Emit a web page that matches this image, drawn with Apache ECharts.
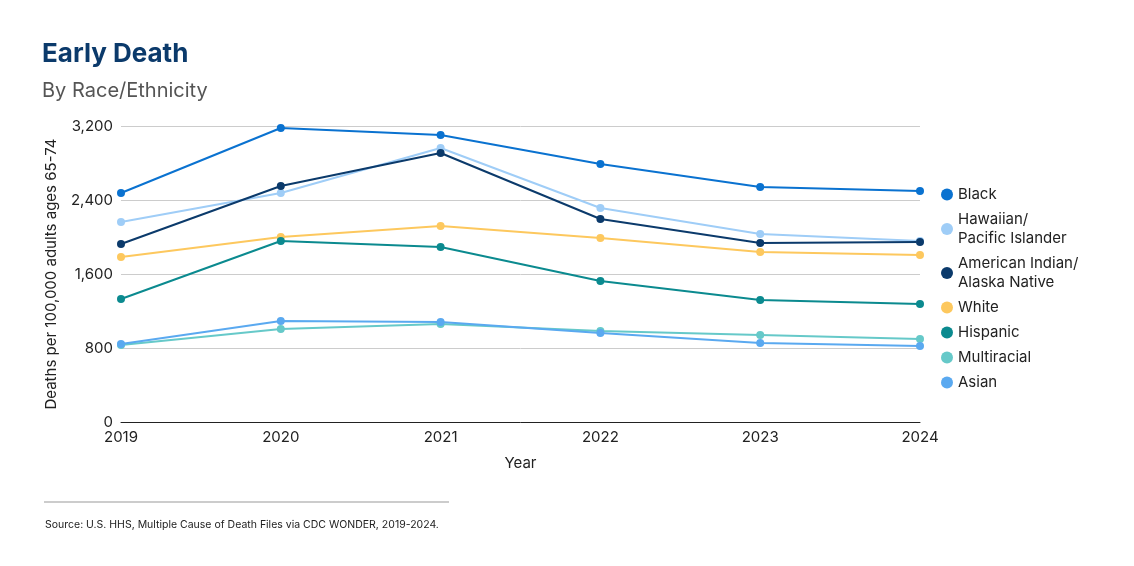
<!DOCTYPE html><html><head><meta charset="utf-8"><script src="https://cdn.jsdelivr.net/npm/echarts@6/dist/echarts.min.js"></script>
<style>body{margin:0}#c{width:1134px;height:566px}</style></head><body><div id="c"></div><script>
const years=['2019','2020','2021','2022','2023','2024'];
const names=['Black','Hawaiian/\nPacific Islander','American Indian/\nAlaska Native','White','Hispanic','Multiracial','Asian'];
const colors=['#0a72d0','#9fcdf7','#0b3a6b','#fdc85e','#0b8a8f','#66c9c9','#5aa9f0'];
const black=[2476,3178,3103,2789,2541,2497];
const hawaiian=[2162,2476,2962,2313,2032,1957];
const aian=[1924,2551,2908,2195,1935,1946];
const white=[1784,2000,2119,1989,1838,1805];
const hispanic=[1330,1957,1892,1524,1319,1276];
const multiracial=[832,1005,1059,984,940,897];
const asian=[843,1092,1081,962,854,822];
const vals=[black,hawaiian,aian,white,hispanic,multiracial,asian];
const f='Inter, Roboto, sans-serif';
const ch=echarts.init(document.getElementById('c'));
ch.setOption({
 textStyle:{fontFamily:f},
 title:[{text:'Early Death',left:37,top:36,textStyle:{fontSize:26,fontWeight:'bold',color:'#0b3a6b',fontFamily:f}},
  {text:'By Race/Ethnicity',left:37,top:76,textStyle:{fontSize:20,fontWeight:'normal',color:'#555',fontFamily:f}},
  {text:'Source: U.S. HHS, Multiple Cause of Death Files via CDC WONDER, 2019-2024.',left:40,top:514,textStyle:{fontSize:10.5,fontWeight:'normal',color:'#222',fontFamily:f}}],
 graphic:[{type:'line',shape:{x1:44,y1:502,x2:449,y2:502},style:{stroke:'#999',lineWidth:1}}],
 grid:{left:121,right:214,top:126,bottom:144},
 legend:{orient:'vertical',left:936,top:180,itemWidth:12,itemHeight:12,itemGap:6,icon:'circle',
  textStyle:{fontSize:15,color:'#222',lineHeight:19},data:names},
 xAxis:{type:'category',data:years,boundaryGap:false,name:'Year',nameLocation:'middle',nameGap:34,
  nameTextStyle:{fontSize:15,color:'#222'},axisLine:{lineStyle:{color:'#222'}},axisTick:{show:false},
  axisLabel:{fontSize:15,color:'#222'}},
 yAxis:{type:'value',min:0,max:3200,interval:800,name:'Deaths per 100,000 adults ages 65-74',nameLocation:'middle',nameGap:62,
  nameTextStyle:{fontSize:15,color:'#222'},axisLabel:{fontSize:15,color:'#222',formatter:v=>v.toLocaleString('en-US')},
  splitLine:{lineStyle:{color:'#ccc'}}},
 series:names.map((n,i)=>({name:n,type:'line',data:vals[i],symbol:'circle',symbolSize:8,color:colors[i],lineStyle:{width:2}}))
});
</script></body></html>
